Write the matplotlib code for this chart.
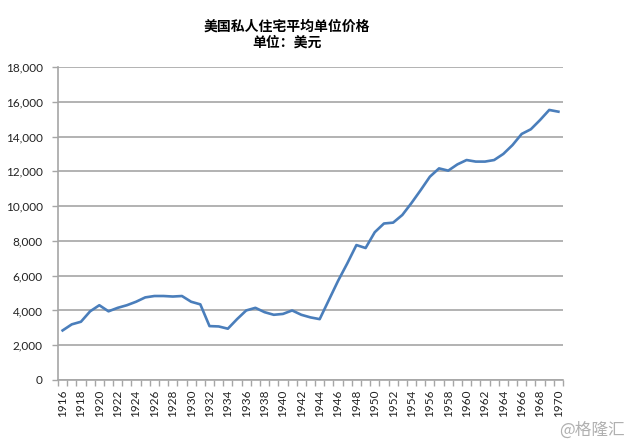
import numpy as np
import matplotlib
matplotlib.use("Agg")
from matplotlib import pyplot as plt
from matplotlib.ticker import FuncFormatter

plt.rcParams['font.family'] = ['Lato', 'Noto Sans CJK SC', 'DejaVu Sans']

years = list(range(1916, 1971))
price = [2850, 3200, 3350, 3950, 4300, 3950, 4150, 4300, 4500, 4750,
         4830, 4830, 4800, 4830, 4500, 4350, 3100, 3080, 2950, 3500,
         4000, 4150, 3900, 3750, 3800, 4000, 3750, 3600, 3500, 4600,
         5700, 6700, 7760, 7590, 8500, 9000, 9050, 9490, 10180, 10920,
         11690, 12170, 12040, 12400, 12650, 12560, 12560, 12650, 13000, 13510,
         14150, 14420, 14950, 15530, 15430]
y_ticks = [0, 2000, 4000, 6000, 8000, 10000, 12000, 14000, 16000, 18000]

title = "美国私人住宅平均单位价格"
subtitle = "单位：美元"

fig = plt.figure(figsize=(6.4, 4.46), dpi=100)
ax = fig.add_axes([58 / 640, 66 / 446, 505 / 640, 313 / 446])

x = np.arange(len(years))
ax.plot(x, price, color='#4a7ebb', linewidth=1.9, solid_joinstyle='round')

ax.set_xlim(-0.5, len(years) - 0.5)
ax.set_ylim(0, 18000)
ax.set_yticks(y_ticks)
ax.yaxis.set_major_formatter(FuncFormatter(lambda v, p: f"{int(v):,}"))
ax.grid(axis='y', color='#a6a6a6', linewidth=1.2)
ax.set_axisbelow(True)

# ticks between categories, labels every other year at centres
ax.set_xticks(np.arange(-0.5, len(years), 1.0))
ax.set_xticklabels([])
ax.set_xticks(x[::2], minor=True)
ax.set_xticklabels([str(y) for y in years[::2]], minor=True, rotation=90)
ax.tick_params(axis='x', which='major', length=4, color='#a6a6a6', width=1)
ax.tick_params(axis='x', which='minor', length=0, pad=7, labelsize=8.5, labelcolor='#222222')
ax.tick_params(axis='y', length=4, color='#a6a6a6', width=1, pad=7,
               labelsize=8.5, labelcolor='#222222')

for s in ['top', 'right']:
    ax.spines[s].set_visible(False)
for s in ['left', 'bottom']:
    ax.spines[s].set_color('#a6a6a6')
    ax.spines[s].set_linewidth(1.2)

fig.text(287 / 640, 1 - 27 / 446, title, ha='center', va='center',
         fontsize=10, fontweight='bold', family=['Noto Sans CJK SC'])
fig.text(287 / 640, 1 - 43 / 446, subtitle, ha='center', va='center',
         fontsize=10, fontweight='bold', family=['Noto Sans CJK SC'])
fig.text(592 / 640, 1 - 430 / 446, "@格隆汇", ha='center', va='center',
         fontsize=12, color='#b0b0b0', family=['Noto Sans CJK SC', 'DejaVu Sans'])

fig.savefig("out.png", dpi=100)
